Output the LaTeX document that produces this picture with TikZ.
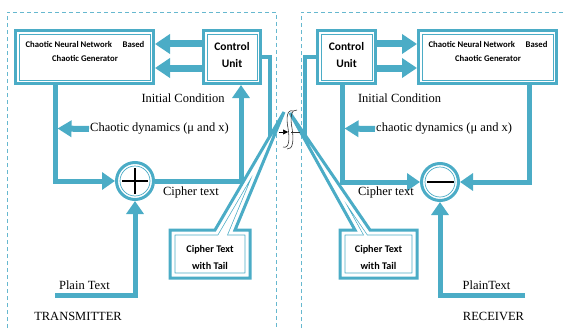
\documentclass[tikz,border=0pt]{standalone}
\usepackage{fontspec}
\setmainfont{Liberation Serif}
\newfontfamily\carl{Carlito}
\usetikzlibrary{arrows.meta}
\definecolor{tealc}{RGB}{75,172,198}
\newcommand\calloutL{(170,230) -- (215,230) -- (284,112) -- (235,230) -- (250,230) -- (250,278) -- (170,278) -- cycle}
\newcommand\calloutR{(340,230) -- (355,230) -- (290,113) -- (370,230) -- (417,230) -- (417,278) -- (340,278) -- cycle}
\begin{document}
\begin{tikzpicture}[x=1pt,y=-1pt,
  thk/.style={draw=tealc,line width=4.5pt},
  arr/.style={draw=tealc,line width=5pt,-{Triangle[width=17pt,length=13pt]}},
  bigarr/.style={draw=tealc,line width=7pt,-{Triangle[width=19pt,length=15pt]}},
  midarr/.style={draw=tealc,line width=6pt,-{Triangle[width=16pt,length=14pt]}},
  dashbox/.style={draw=tealc!85,line width=0.9pt,dash pattern=on 4pt off 3pt},
  box/.style={draw=tealc,line width=3pt,fill=white,inner sep=0pt},
  ring/.style={circle,draw=tealc,line width=3pt,fill=white,inner sep=0pt,minimum size=37pt},
  inl/.style={draw=tealc,line width=0.7pt},
  lbl/.style={font=\fontsize{12.5}{14}\selectfont,inner sep=1pt},
  gent/.style={font=\carl\bfseries\fontsize{8.7}{14}\selectfont,align=center,inner sep=0pt},
  ctlt/.style={font=\carl\bfseries\fontsize{11.5}{17}\selectfont,align=center,inner sep=0pt},
  cot/.style={font=\carl\bfseries\fontsize{10.2}{17}\selectfont,align=center,inner sep=0pt},
  sign/.style={draw=black,line width=2.2pt}
]
\useasboundingbox (0,0) rectangle (564,329);
% dashed frames
\draw[dashbox] (7,335) -- (7,12) -- (276,12) -- (276,335);
\draw[dashbox] (301,335) -- (301,12) -- (570,12);

% ---------- transmitter ----------
\node[box,minimum width=138pt,minimum height=53pt] (genL) at (84.5,57) {};
\draw[inl] ([shift={(5pt,-5pt)}]genL.north west) rectangle ([shift={(-5pt,5pt)}]genL.south east);
\node[gent] (genLt) at (85,51) {Chaotic Neural Network\quad\ Based\\Chaotic Generator};
\node[box,minimum width=57pt,minimum height=53pt] (ctrlL) at (232,57) {};
\draw[inl] ([shift={(5pt,-5pt)}]ctrlL.north west) rectangle ([shift={(-5pt,5pt)}]ctrlL.south east);
\node[ctlt] (ctrlLt) at (232,55.5) {Control\\Unit};

\draw[bigarr] (ctrlL.west |- 0,44) -- (genL.east |- 0,44);
\draw[bigarr] (ctrlL.west |- 0,68) -- (genL.east |- 0,68);

\node[ring] (plusL) at (135,181) {};
\draw[inl] (plusL.center) circle[radius=15pt];
\draw[sign] ([xshift=-13pt]plusL.center) -- ([xshift=13pt]plusL.center);
\draw[sign] ([yshift=-13pt]plusL.center) -- ([yshift=13pt]plusL.center);

\draw[arr] ([xshift=41pt]genL.south west) |- (plusL.west);
\draw[arr] (plusL.east) -| ([xshift=39pt]ctrlL.south west);
\coordinate (ptL) at (55,295.5);
\draw[arr] (ptL) -| (plusL.south);

\node[lbl] (icL) at (183,98) {Initial Condition};
\node[lbl,anchor=west] (dynL) at (89,129) {Chaotic dynamics (μ and x)};
\coordinate (vL) at (57.5,128.5);
\draw[midarr] (dynL.west) -- (vL);
\node[lbl] (ctL) at (191,192) {Cipher text};
\node[lbl] (ptxL) at (84.5,285) {Plain Text};
\node[lbl] (tx) at (78,316) {TRANSMITTER};

% ---------- receiver ----------
\node[box,minimum width=58pt,minimum height=53pt] (ctrlR) at (346.5,57) {};
\draw[inl] ([shift={(5pt,-5pt)}]ctrlR.north west) rectangle ([shift={(-5pt,5pt)}]ctrlR.south east);
\node[ctlt] (ctrlRt) at (346.5,55.5) {Control\\Unit};
\node[box,minimum width=138pt,minimum height=53pt] (genR) at (487.5,57) {};
\draw[inl] ([shift={(5pt,-5pt)}]genR.north west) rectangle ([shift={(-5pt,5pt)}]genR.south east);
\node[gent] (genRt) at (488,51) {Chaotic Neural Network\quad\ Based\\Chaotic Generator};

\draw[bigarr] (ctrlR.east |- 0,44) -- (genR.west |- 0,44);
\draw[bigarr] (ctrlR.east |- 0,68) -- (genR.west |- 0,68);

\node[ring] (minusR) at (440,182) {};
\draw[inl] (minusR.center) circle[radius=15pt];
\draw[sign,line width=2.6pt] ([xshift=-13.5pt]minusR.center) -- ([xshift=13.5pt]minusR.center);

\draw[arr] ([xshift=26pt]ctrlR.south west) |- (minusR.west);
\draw[arr] ([xshift=-29pt]genR.south east) |- (minusR.east);
\coordinate (ptR) at (525,295.5);
\draw[arr] (ptR) -| (minusR.south);

\node[lbl] (icR) at (399.5,98) {Initial Condition};
\node[lbl,anchor=west] (dynR) at (375,129) {chaotic dynamics (μ and x)};
\coordinate (vR) at (344.5,128.5);
\draw[midarr] (dynR.west) -- (vR);
\node[lbl] (ctR) at (386,192) {Cipher text};
\node[lbl] (ptxR) at (486.5,285) {PlainText};
\node[lbl] (rx) at (493.5,316) {RECEIVER};

% ---------- channel ----------
\coordinate (mL) at (270,137);
\coordinate (mR) at (305,136);
\draw[thk] (ctrlL.east) -| (mL);
\draw[thk] (ctrlR.west) -| (mR);

\fill[white] \calloutL;
\begin{scope}\clip \calloutL;
  \draw[tealc,line width=10.6pt] \calloutL;
  \draw[white,line width=9.2pt] \calloutL;
\end{scope}
\draw[tealc,line width=3pt] \calloutL;
\node[cot] (cwL) at (210,257.5) {Cipher Text\\with Tail};

\fill[white] \calloutR;
\begin{scope}\clip \calloutR;
  \draw[tealc,line width=10.6pt] \calloutR;
  \draw[white,line width=9.2pt] \calloutR;
\end{scope}
\draw[tealc,line width=3pt] \calloutR;
\node[cot] (cwR) at (378.5,257.5) {Cipher Text\\with Tail};

% glyph
\draw[black!80,line width=0.6pt] (293,111) .. controls (287,109) and (286,118) .. (288,128) .. controls (290,140) and (289,149) .. (283,147);
\draw[black!80,line width=0.6pt] (297,110) .. controls (291,109) and (290,118) .. (292,128) .. controls (294,140) and (293,150) .. (287,149);
\coordinate (gA) at (279,132);
\coordinate (gB) at (288,132);
\draw[black,line width=0.6pt,-{Triangle[width=5pt,length=5pt]}] (gA) -- (gB);
\coordinate (gC) at (291,132);
\coordinate (gD) at (300,132);
\draw[black!80,line width=0.6pt] (gC) -- (gD);
\end{tikzpicture}
\end{document}
